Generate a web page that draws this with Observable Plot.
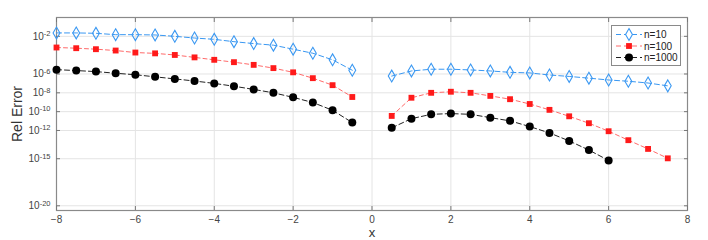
<!DOCTYPE html>
<html>
<head>
<meta charset="utf-8">
<script src="https://cdn.jsdelivr.net/npm/d3@7"></script>
<script src="https://cdn.jsdelivr.net/npm/@observablehq/plot@0.6"></script>
<style>
  body { margin: 0; background: #fff; font-family: "Liberation Sans", Arial, sans-serif; }
  #wrap { position: relative; width: 708px; height: 240px; }
  #legend { position: absolute; left: 611px; top: 25px; }
</style>
</head>
<body>
<div id="wrap"></div>
<script>
// x positions
const xLeft = [-8, -7.5, -7, -6.5, -6, -5.5, -5, -4.5, -4, -3.5, -3, -2.5, -2, -1.5, -1, -0.5];
const xRight = [0.5, 1, 1.5, 2, 2.5, 3, 3.5, 4, 4.5, 5, 5.5, 6, 6.5, 7, 7.5];

// series values (relative error)
const n10Left = [2.3e-2, 2.3e-2, 2.1e-2, 1.5e-2, 1.5e-2, 1.4e-2, 1.0e-2, 6.6e-3, 4.8e-3, 2.7e-3, 1.7e-3, 1.15e-3, 4.3e-4, 1.6e-4, 3.2e-5, 2.5e-6];
const n100Left = [6.5e-4, 5.5e-4, 4.3e-4, 3.1e-4, 1.9e-4, 1.55e-4, 1.05e-4, 5.8e-5, 3.2e-5, 1.8e-5, 9.3e-6, 4.2e-6, 1.5e-6, 3.6e-7, 6.5e-8, 3.6e-9];
const n1000Left = [2.9e-6, 2.3e-6, 1.8e-6, 1.2e-6, 8.3e-7, 5.0e-7, 3.0e-7, 1.8e-7, 1.0e-7, 5.0e-8, 2.3e-8, 1.0e-8, 3.3e-9, 9.3e-10, 1.4e-10, 6.9e-12];
const n10Right = [6.0e-7, 2.1e-6, 3.2e-6, 3.2e-6, 2.7e-6, 2.1e-6, 1.5e-6, 1.3e-6, 7.8e-7, 5.5e-7, 3.6e-7, 2.3e-7, 1.7e-7, 1.1e-7, 5.5e-8];
const n100Right = [3.5e-11, 3.0e-9, 1.0e-8, 1.3e-8, 1.0e-8, 4.7e-9, 2.1e-9, 6.5e-10, 1.55e-10, 3.2e-11, 5.9e-12, 8.3e-13, 9.3e-14, 1.1e-14, 1.1e-15];
const n1000Right = [1.9e-12, 1.8e-11, 5.2e-11, 6.2e-11, 5.2e-11, 2.3e-11, 1.05e-11, 2.6e-12, 5.5e-13, 7.8e-14, 8.3e-15, 6.5e-16];

// ticks
const xTicks = [-8, -6, -4, -2, 0, 2, 4, 6, 8];
const yTicks = [1e-20, 1e-15, 1e-12, 1e-10, 1e-8, 1e-6, 1e-2];
const yTickExponents = ["-20", "-15", "-12", "-10", "-8", "-6", "-2"];

const seriesNames = ["n=10", "n=100", "n=1000"];
const seriesLine = ["#3a98f2", "#ff6a6a", "#222222"];
const seriesMark = ["#3a98f2", "#ff1a1a", "#000000"];

function rows(name, side, xs, ys) {
  return ys.map((v, i) => ({series: name, seg: name + side, x: xs[i], y: v}));
}
const data = [
  ...rows("n=10", "L", xLeft, n10Left), ...rows("n=10", "R", xRight, n10Right),
  ...rows("n=100", "L", xLeft, n100Left), ...rows("n=100", "R", xRight, n100Right),
  ...rows("n=1000", "L", xLeft, n1000Left), ...rows("n=1000", "R", xRight, n1000Right)
];
const bySeries = s => data.filter(d => d.series === s);

const tickFmt = v => {
  const i = yTicks.findIndex(t => Math.abs(Math.log10(t) - Math.log10(v)) < 1e-6);
  return i < 0 ? "" : "10^" + yTickExponents[i];
};

const plot = Plot.plot({
  width: 708,
  height: 240,
  marginTop: 17,
  marginBottom: 30,
  marginLeft: 56,
  marginRight: 21,
  style: {fontFamily: "'Liberation Sans', Arial, sans-serif", fontSize: "10px", color: "#444", background: "#fff"},
  x: {domain: [-8, 8]},
  y: {type: "log", domain: [Math.pow(10, -20.5), 1]},
  marks: [
    Plot.gridX(xTicks, {stroke: "#e4e4e4", strokeOpacity: 1}),
    Plot.gridY(yTicks, {stroke: "#e4e4e4", strokeOpacity: 1}),
    Plot.frame({stroke: "#8a8a8a", strokeWidth: 1.2}),
    Plot.axisX(xTicks, {anchor: "bottom", tickSize: 0, tickPadding: 5, label: "x", labelAnchor: "center", labelArrow: false, labelOffset: 26, fontSize: 10, color: "#444"}),
    Plot.axisX(xTicks, {anchor: "bottom", tickSize: -4, tickFormat: () => "", label: null, stroke: "#777"}),
    Plot.axisX(xTicks, {anchor: "top", tickSize: -4, tickFormat: () => "", label: null, stroke: "#777"}),
    Plot.axisY(yTicks, {anchor: "left", tickSize: 0, tickPadding: 6, tickFormat: tickFmt, label: "Rel Error", labelAnchor: "center", labelArrow: false, labelOffset: 44, fontSize: 10, color: "#444"}),
    Plot.axisY(yTicks, {anchor: "left", tickSize: -4, tickFormat: () => "", label: null, stroke: "#777"}),
    Plot.axisY(yTicks, {anchor: "right", tickSize: -4, tickFormat: () => "", label: null, stroke: "#777"}),
    // n=10
    Plot.line(bySeries("n=10"), {x: "x", y: "y", z: "seg", stroke: seriesLine[0], strokeWidth: 1, strokeDasharray: "5,3"}),
    Plot.dot(bySeries("n=10"), {x: "x", y: "y", symbol: "diamond", r: 3.6, stroke: seriesMark[0], strokeWidth: 1.1, fill: "none"}),
    // n=100
    Plot.line(bySeries("n=100"), {x: "x", y: "y", z: "seg", stroke: seriesLine[1], strokeWidth: 1, strokeDasharray: "4,3"}),
    Plot.dot(bySeries("n=100"), {x: "x", y: "y", symbol: "square", r: 3.3, fill: seriesMark[1], stroke: "none"}),
    // n=1000
    Plot.line(bySeries("n=1000"), {x: "x", y: "y", z: "seg", stroke: seriesLine[2], strokeWidth: 1, strokeDasharray: "5,3"}),
    Plot.dot(bySeries("n=1000"), {x: "x", y: "y", symbol: "circle", r: 4, fill: seriesMark[2], stroke: "none"})
  ]
});

// axis label styling
d3.select(plot).selectAll("g[aria-label='x-axis label'] text")
  .style("font-size", "13px").style("fill", "#333");
d3.select(plot).selectAll("g[aria-label='y-axis label'] text")
  .style("font-size", "14px").style("fill", "#333");

// superscript exponents in y tick labels
d3.select(plot).selectAll("g[aria-label='y-axis tick label'] text").each(function() {
  const t = d3.select(this);
  const s = t.text();
  if (!s.startsWith("10^")) return;
  const exp = s.slice(3);
  t.text(null);
  t.append("tspan").text("10");
  t.append("tspan").attr("dy", "-0.45em").attr("font-size", "7.5px").text(exp);
});

const wrap = document.getElementById("wrap");
wrap.appendChild(plot);

// legend
const symbols = ["diamond", "square", "circle"];
const symR = [3.6, 3.3, 4];
const leg = d3.create("svg").attr("id", "legend").attr("width", 70).attr("height", 41);
leg.append("rect").attr("x", 0.5).attr("y", 0.5).attr("width", 69).attr("height", 40)
  .attr("fill", "#fff").attr("stroke", "#8a8a8a");
seriesNames.forEach((name, i) => {
  const cy = 9.5 + i * 11.5;
  const g = leg.append("g").attr("transform", `translate(0,${cy})`);
  g.append("line").attr("x1", 5).attr("x2", 31).attr("y1", 0).attr("y2", 0)
    .attr("stroke", seriesLine[i]).attr("stroke-dasharray", "5,3");
  const sym = d3.symbol().type(symbols[i] === "diamond" ? d3.symbolDiamond : symbols[i] === "square" ? d3.symbolSquare : d3.symbolCircle)
    .size(symR[i] * symR[i] * Math.PI);
  g.append("path").attr("d", sym()).attr("transform", "translate(18,0)")
    .attr("fill", i === 0 ? "#fff" : seriesMark[i]).attr("stroke", i === 0 ? seriesMark[0] : "none").attr("stroke-width", 1.1);
  g.append("text").attr("x", 33).attr("y", 0).attr("dy", "0.35em")
    .attr("font-size", 10).attr("fill", "#222")
    .attr("font-family", "'Liberation Sans', Arial, sans-serif").text(name);
});
wrap.appendChild(leg.node());
</script>
</body>
</html>
